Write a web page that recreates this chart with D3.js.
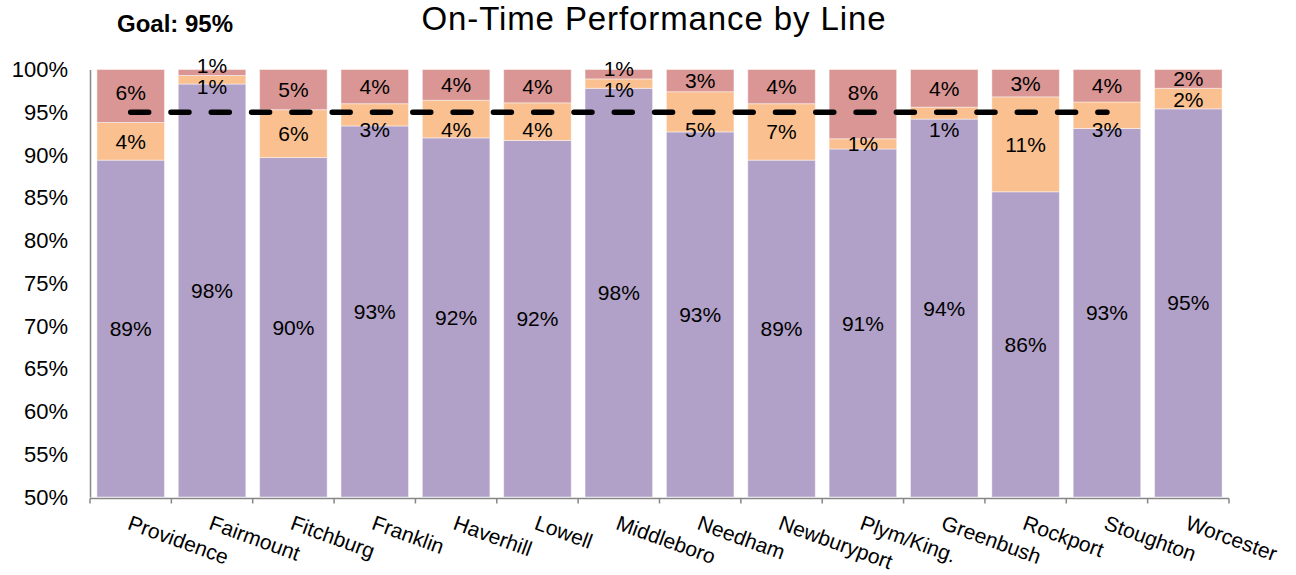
<!DOCTYPE html>
<html>
<head>
<meta charset="utf-8">
<script src="https://cdn.jsdelivr.net/npm/d3@7"></script>
<style>
  html, body { margin: 0; padding: 0; background: #fff; }
  svg { display: block; }
  text { font-family: "Liberation Sans", Arial, sans-serif; fill: #000; }
</style>
</head>
<body>
<svg id="chart" width="1296" height="575"></svg>
<script>
const categories = ["Providence","Fairmount","Fitchburg","Franklin","Haverhill","Lowell","Middleboro","Needham","Newburyport","Plym/King.","Greenbush","Rockport","Stoughton","Worcester"];
const onTime = [89.4, 98.3, 89.7, 93.4, 92.0, 91.7, 97.8, 92.7, 89.4, 90.7, 94.2, 85.7, 93.1, 95.4];
const minorDelay = [4.4, 1.0, 5.6, 2.6, 4.4, 4.4, 1.1, 4.7, 6.6, 1.2, 1.4, 11.1, 3.1, 2.4];
const lateDelay = [6.2, 0.7, 4.7, 4.0, 3.6, 3.9, 1.1, 2.6, 4.0, 8.1, 4.4, 3.2, 3.8, 2.2];
const yTicks = [50, 55, 60, 65, 70, 75, 80, 85, 90, 95, 100];
const goalValue = 95;
const goalStart = "Providence";
const goalEnd = "Stoughton";
const titleText = "On-Time Performance by Line";
const goalText = "Goal: 95%";

const colors = { onTime: "#B1A0C7", minor: "#FAC090", late: "#D99694", axis: "#868686" };

const svg = d3.select("#chart");
const x = d3.scaleBand().domain(categories).range([90, 1229]).paddingInner(0.17).paddingOuter(0.085);
const y = d3.scaleLinear().domain([50, 100]).range([497, 69.5]);

// stacked data
const rows = categories.map((c, i) => ({ cat: c, onTime: onTime[i], minor: minorDelay[i], late: lateDelay[i] }));
const keys = ["onTime", "minor", "late"];
const stack = d3.stack().keys(keys)(rows);

const g = svg.append("g");
stack.forEach(layer => {
  g.append("g").selectAll("rect").data(layer).join("rect")
    .attr("x", d => x(d.data.cat))
    .attr("width", x.bandwidth())
    .attr("y", d => y(Math.min(100, d[1])))
    .attr("height", d => y(Math.max(50, d[0])) - y(Math.min(100, d[1])))
    .attr("fill", colors[layer.key])
    .attr("stroke", "#fff").attr("stroke-opacity", 0.45).attr("stroke-width", 1);
});

// y axis
const yAxis = d3.axisLeft(y).tickValues(yTicks).tickFormat(d => d + "%").tickSize(0).tickSizeOuter(0).tickPadding(22);
const yg = svg.append("g").attr("transform", "translate(90,0)").call(yAxis);
yg.select(".domain").attr("stroke", colors.axis).attr("stroke-width", 1.5);
yg.selectAll("text").style("font-family", "'Liberation Sans', Arial, sans-serif").style("font-size", "22px").attr("fill", "#000");

// x axis
const xg = svg.append("g");
const axisY = y(50) + 1.5;
const [r0, r1] = x.range();
xg.append("line").attr("x1", r0).attr("x2", r1).attr("y1", axisY).attr("y2", axisY)
  .attr("stroke", colors.axis).attr("stroke-width", 1.5);
const boundaries = d3.range(categories.length + 1).map(i => r0 + i * x.step());
xg.selectAll("line.tick").data(boundaries).join("line").attr("class", "tick")
  .attr("x1", d => d).attr("x2", d => d).attr("y1", axisY).attr("y2", axisY + 5)
  .attr("stroke", colors.axis).attr("stroke-width", 1.5);
xg.selectAll("text").data(categories).join("text")
  .attr("transform", d => `translate(${x(d) + x.bandwidth() / 2 + 1},${axisY + 16}) rotate(20)`)
  .attr("x", 0).attr("dy", "0.72em")
  .attr("text-anchor", "start")
  .style("font-size", "21px")
  .text(d => d);

// goal line
const lineY = y(goalValue);
const gx1 = x(goalStart) + x.bandwidth() / 2;
const gx2 = x(goalEnd) + x.bandwidth() / 2;
svg.append("line").attr("x1", gx1).attr("x2", gx2).attr("y1", lineY).attr("y2", lineY)
  .attr("stroke", "#000").attr("stroke-width", 5.5)
  .attr("stroke-dasharray", "18,22.3").attr("stroke-linecap", "round");

// labels
const fmt = v => Math.round(v) + "%";
const labels = [];
rows.forEach((r, i) => {
  const cx = x(r.cat) + x.bandwidth() / 2;
  const pTop = y(r.onTime), oTop = y(r.onTime + r.minor), rTop = y(100);
  let pC = (pTop + y(50)) / 2;
  let oC = (oTop + pTop) / 2;
  let rC = (rTop + oTop) / 2;
  const inGoal = cx >= gx1 - 1 && cx <= gx2 + 1;
  if (inGoal) {
    if (Math.abs(oC - lineY) < 17) oC = lineY + 17;
    if (Math.abs(rC - lineY) < 18) rC = lineY - 20;
  }
  if (rC > oC - 21) {
    const mid = (rC + oC) / 2;
    rC = mid - 10.5; oC = mid + 10.5;
  }
  labels.push({ x: cx, y: pC, t: fmt(r.onTime) });
  labels.push({ x: cx, y: oC, t: fmt(r.minor) });
  labels.push({ x: cx, y: rC, t: fmt(r.late) });
});
svg.append("g").selectAll("text").data(labels).join("text")
  .attr("x", d => d.x).attr("y", d => d.y).attr("dy", "0.36em")
  .attr("text-anchor", "middle").style("font-size", "21px")
  .text(d => d.t);

// title
svg.append("text").attr("x", 654).attr("y", 30).attr("text-anchor", "middle")
  .style("font-size", "33px").style("letter-spacing", "0.9px").text(titleText);
svg.append("text").attr("x", 117).attr("y", 31.5).attr("text-anchor", "start")
  .style("font-size", "24px").style("font-weight", "bold").text(goalText);
</script>
</body>
</html>
